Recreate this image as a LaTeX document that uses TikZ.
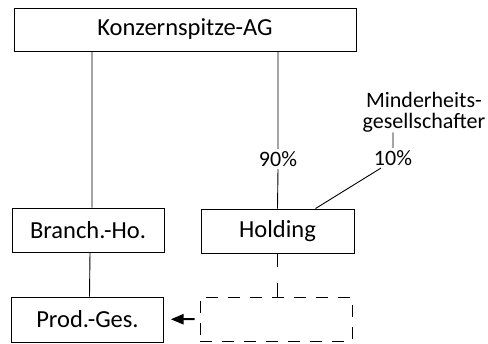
\documentclass[tikz,border=0pt]{standalone}
\usepackage{fontspec}
\setmainfont{Carlito}
\usepackage{tikz}
\usetikzlibrary{arrows,shapes}
\usetikzlibrary{positioning}
\tikzstyle{org}=[x=1pt, y=-1pt, line width=0.9pt,
                every node/.style={text=black, font=\fontsize{22}{21}\selectfont}]
\tikzstyle{unit}=[draw, rectangle, minimum width=152pt, minimum height=44pt,
                inner sep=0pt, font=\fontsize{24.5}{26}\selectfont]
\tikzstyle{ghost}=[dash pattern=on 12pt off 10pt]
\tikzstyle{share}=[inner sep=2pt]

\begin{document}
\begin{tikzpicture}[org]
  \path[use as bounding box] (0,0) rectangle (488,344);
  \node[unit, minimum width=342pt, minimum height=43pt] (top) at (185,29.5) {Konzernspitze-AG};
  \node[unit] (branch) at (88,230) {Branch.-Ho.};
  \node[unit, minimum width=153pt] (holding) at (277.5,231) {Holding};
  \node[unit, minimum height=45pt] (prod) at (87.5,319.5) {Prod.-Ges.};
  \node[unit, ghost] (sub) at (276,319) {};
  \node[share] (p90) at (278,159) {90\%};
  \node[share] (p10) at (393,158) {10\%};
  \node[inner sep=0pt, align=center] (minder) at (424,112) {Minderheits-\\gesellschafter};
  \coordinate (bj) at ([xshift=4pt]branch.north);
  \coordinate (hj) at ([xshift=38pt]holding.north);
  \path[draw]
    (bj) -- (bj |- top.south)
    ([xshift=2pt]branch.south) -- ([xshift=2pt]prod.north)
    (top.south -| p90) -- (p90.north)
    (p90.south) -- (holding.north)
    (p10.north) -- (p10.north |- minder.south)
    ([xshift=-12pt]p10.south) -- (hj);
  \draw[dash pattern=on 14pt off 16pt] (holding.south) -- (holding.south |- sub.north);
  \draw[-triangle 45, line width=2pt, shorten >=7pt, shorten <=5pt] (sub) -- (prod);
\end{tikzpicture}
\end{document}
